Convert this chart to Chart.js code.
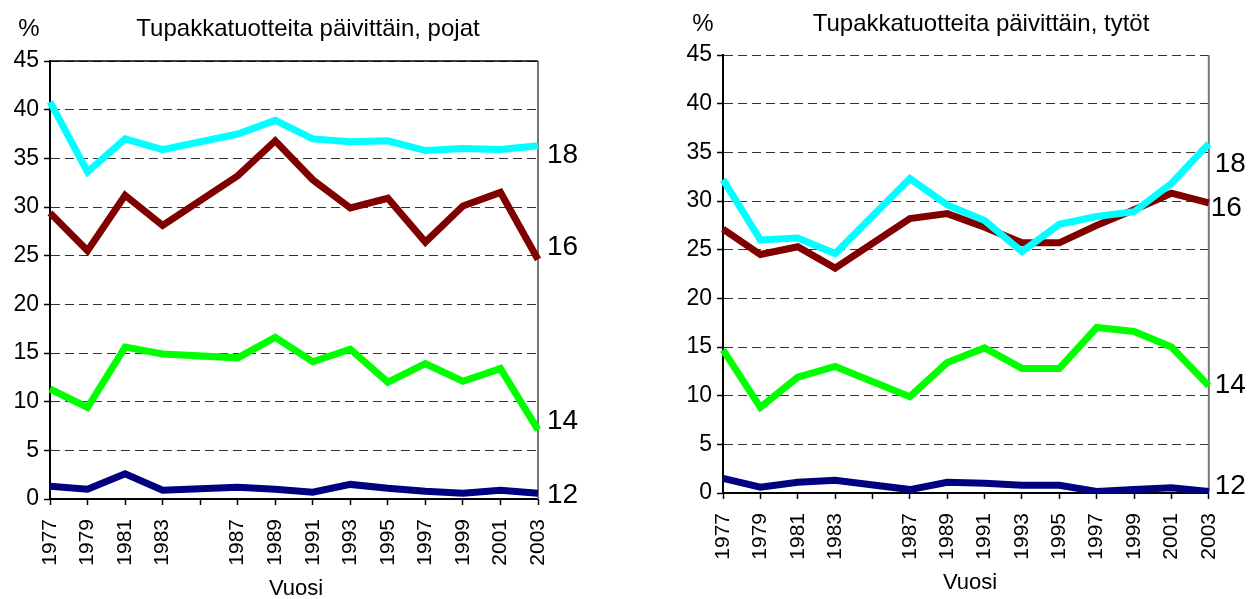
<!DOCTYPE html>
<html><head><meta charset="utf-8">
<script src="https://cdn.jsdelivr.net/npm/chart.js@4/dist/chart.umd.min.js"></script>
<style>
html,body{margin:0;padding:0;background:#fff;overflow:hidden}
#wrap{position:relative;width:1248px;height:599px;background:#fff}
.box{position:absolute;top:0}
</style></head><body>
<div id="wrap">
<div class="box" style="left:0;width:620px;height:599px"><canvas id="c1" width="620" height="599"></canvas></div>
<div class="box" style="left:620px;width:628px;height:599px"><canvas id="c2" width="628" height="599"></canvas></div>
</div>
<script>
// ---- data ----
const years = ['1977','1979','1981','1983','1985','1987','1989','1991','1993','1995','1997','1999','2001','2003'];
const tickLabels = ['1977','1979','1981','1983','','1987','1989','1991','1993','1995','1997','1999','2001','2003'];
const ageLabels = ['18','16','14','12'];
const yTicks = [0,5,10,15,20,25,30,35,40,45];

const boys18 = [40.8, 33.6, 37.0, 35.9, null, 37.5, 38.9, 37.0, 36.7, 36.8, 35.8, 36.0, 35.9, 36.3];
const boys16 = [29.4, 25.5, 31.2, 28.1, null, 33.2, 36.8, 32.8, 29.9, 30.9, 26.4, 30.1, 31.5, 24.6];
const boys14 = [11.3, 9.4, 15.6, 14.9, null, 14.5, 16.6, 14.1, 15.4, 12.0, 13.9, 12.1, 13.4, 7.1];
const boys12 = [1.3, 1.0, 2.6, 0.9, null, 1.2, 1.0, 0.7, 1.5, 1.1, 0.8, 0.6, 0.9, 0.6];

const girls18 = [32.2, 26.0, 26.2, 24.6, null, 32.3, 29.6, 28.0, 24.8, 27.6, 28.4, 28.9, 31.8, 35.9];
const girls16 = [27.1, 24.5, 25.3, 23.1, null, 28.2, 28.7, 27.3, 25.7, 25.7, 27.5, 29.1, 30.8, 29.8];
const girls14 = [14.7, 8.8, 11.9, 13.0, null, 9.9, 13.4, 14.9, 12.8, 12.8, 17.0, 16.6, 15.0, 11.0];
const girls12 = [1.5, 0.6, 1.1, 1.3, null, 0.35, 1.1, 1.0, 0.8, 0.8, 0.15, 0.35, 0.55, 0.15];

const colors = ['#00FFFF', '#800000', '#00FF00', '#000080'];
const FONT = "'Liberation Sans', Arial, sans-serif";

const decor = {
  id: 'decor',
  beforeDatasetsDraw(chart, args, o) {
    const ctx = chart.ctx, a = chart.chartArea;
    ctx.save();
    ctx.strokeStyle = '#777'; ctx.lineWidth = 2;
    ctx.beginPath(); ctx.moveTo(a.right, a.top); ctx.lineTo(a.right, a.bottom); ctx.stroke();
    if (o.topSolid) {
      ctx.strokeStyle = '#000'; ctx.lineWidth = 1.5;
      ctx.beginPath(); ctx.moveTo(a.left, a.top); ctx.lineTo(a.right, a.top); ctx.stroke();
    }
    ctx.restore();
  },
  afterDraw(chart, args, o) {
    const ctx = chart.ctx, a = chart.chartArea;
    ctx.save();
    ctx.fillStyle = '#000';
    ctx.textBaseline = 'middle';
    ctx.textAlign = 'center';
    ctx.font = '24px ' + FONT;
    ctx.fillText(o.heading, o.headX, o.headY);
    ctx.fillText('%', o.pctX, o.pctY);
    ctx.font = '22px ' + FONT;
    ctx.fillText('Vuosi', o.xtX, o.xtY);
    ctx.font = '28px ' + FONT;
    ctx.textAlign = 'left';
    o.endDx.forEach((dx, i) => {
      const meta = chart.getDatasetMeta(i);
      const pt = meta.data[meta.data.length - 1];
      ctx.fillText(ageLabels[i], a.right + dx, pt.y + o.endDy[i]);
    });
    ctx.restore();
  }
};

function makeChart(id, series, pad, xH, deco) {
  return new Chart(document.getElementById(id), {
    type: 'line',
    data: {
      labels: tickLabels,
      datasets: series.map((s, i) => ({
        label: ageLabels[i],
        data: s,
        borderColor: colors[i],
        backgroundColor: colors[i],
        borderWidth: 7,
        pointRadius: 0,
        tension: 0,
        spanGaps: true,
        borderJoinStyle: 'miter',
        borderCapStyle: 'butt'
      }))
    },
    options: {
      responsive: false,
      animation: false,
      devicePixelRatio: 1,
      layout: { padding: pad },
      plugins: { legend: { display: false }, tooltip: { enabled: false }, decor: deco },
      scales: {
        x: {
          type: 'category',
          offset: false,
          afterFit(s) { s.height = xH; },
          grid: { display: true, drawOnChartArea: false, drawTicks: true, tickLength: 6, tickColor: '#000', tickWidth: 1.5 },
          border: { display: true, color: '#000', width: 2 },
          ticks: { autoSkip: false, maxRotation: 90, minRotation: 90, padding: 14, color: '#000', font: { family: FONT, size: 21 } }
        },
        y: {
          min: 0, max: 45,
          afterFit(s) { s.width = 50; },
          afterBuildTicks(s) { s.ticks = yTicks.map(v => ({ value: v })); },
          grid: { display: true, color: '#333', lineWidth: 1, tickLength: 6, tickColor: '#000', tickWidth: 1.5, tickBorderDash: [] },
          border: { display: true, color: '#000', width: 2, dash: [9, 5] },
          ticks: { padding: 5, color: '#000', font: { family: FONT, size: 23 } }
        }
      }
    },
    plugins: [decor]
  });
}

makeChart('c1', [boys18, boys16, boys14, boys12],
  { left: 0, right: 82, top: 61, bottom: 0 }, 100,
  { heading: 'Tupakkatuotteita päivittäin, pojat', headX: 308, headY: 29, pctX: 29, pctY: 29,
    xtX: 296, xtY: 589, topSolid: true,
    endDx: [9, 9, 9, 9], endDy: [10, -12, -9, 2] });

makeChart('c2', [girls18, girls16, girls14, girls12],
  { left: 53, right: 36, top: 55, bottom: 0 }, 106,
  { heading: 'Tupakkatuotteita päivittäin, tytöt', headX: 361, headY: 24, pctX: 83, pctY: 24,
    xtX: 350, xtY: 583, topSolid: false,
    endDx: [6, 2, 6, 6], endDy: [21, 5, -1, -5] });
</script>
</body></html>
